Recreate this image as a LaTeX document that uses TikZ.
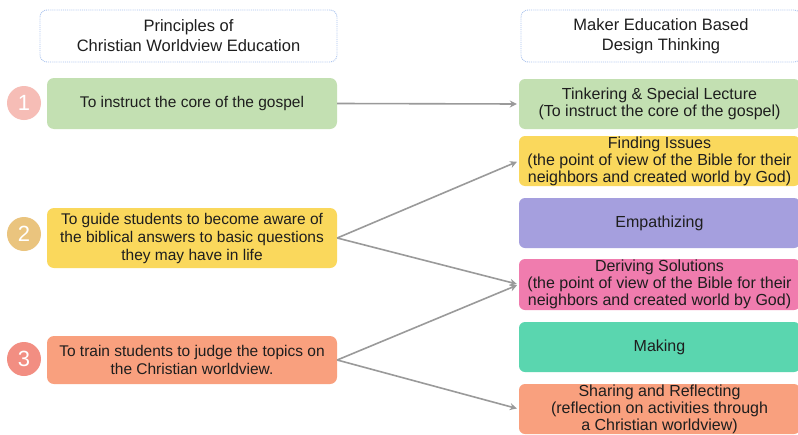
\documentclass[tikz,border=0pt]{standalone}
\usepackage{fontspec}
\setmainfont{Liberation Sans}
\usetikzlibrary{arrows.meta}
\definecolor{hdrline}{HTML}{A8C2EE}
\definecolor{cgreen}{HTML}{C3E0B2}
\definecolor{cyellow}{HTML}{FAD85C}
\definecolor{csalmon}{HTML}{F9A07E}
\definecolor{cpurple}{HTML}{A59FDE}
\definecolor{cpink}{HTML}{F07CAE}
\definecolor{cteal}{HTML}{5AD6AF}
\definecolor{cone}{HTML}{F6BDB6}
\definecolor{ctwo}{HTML}{EAC47E}
\definecolor{cthree}{HTML}{F28E82}
\definecolor{arrowgray}{HTML}{9A9A9A}
\definecolor{txt}{HTML}{1E1E1E}
\tikzset{
  hdrbox/.style={draw=hdrline, densely dotted, line width=0.9pt, rounded corners=7pt, fill=white,
    minimum height=52pt, align=center, font=\fontsize{16.5}{20}\selectfont, text=txt, inner sep=0pt},
  leftbox/.style={rounded corners=7pt, minimum width=290pt, align=center,
    font=\fontsize{15.5}{18}\selectfont, text=txt, inner sep=0pt},
  rightbox/.style={rounded corners=6pt, minimum width=281pt, align=center,
    font=\fontsize{16}{17}\selectfont, text=txt, inner sep=0pt},
  numcirc/.style={circle, minimum size=34pt, inner sep=0pt, text=white,
    font=\fontsize{22}{22}\selectfont},
  conn/.style={draw=arrowgray, line width=1.6pt, -{Stealth[length=7pt,width=7pt]}, shorten >=2pt}
}
\begin{document}
\begin{tikzpicture}[x=1pt,y=-1pt]
\useasboundingbox (0,0) rectangle (798,434);
\clip (0,0) rectangle (798,434);
\fill[white] (0,0) rectangle (798,434);
% headers
\node[hdrbox, minimum width=297pt] (H1) at (188.5,36) {Principles of\\Christian Worldview Education};
\node[hdrbox, minimum width=280pt] (H2) at (661,36) {Maker Education Based\\Design Thinking};
% left boxes
\node[leftbox, fill=cgreen, minimum height=51pt] (L1) at (192,103.5) {To instruct the core of the gospel};
\node[leftbox, fill=cyellow, minimum height=60pt] (L2) at (192,238) {To guide students to become aware of\\the biblical answers to basic questions\\they may have in life};
\node[leftbox, fill=csalmon, minimum height=48pt] (L3) at (192,360) {To train students to judge the topics on\\the Christian worldview.};
% number circles
\node[numcirc, fill=cone] (C1) at (24,103) {1};
\node[numcirc, fill=ctwo] (C2) at (24,234) {2};
\node[numcirc, fill=cthree] (C3) at (24,359) {3};
% right boxes
\node[rightbox, fill=cgreen, minimum height=50pt] (R1) at (659.5,104) {Tinkering \& Special Lecture\\(To instruct the core of the gospel)};
\node[rightbox, fill=cyellow, minimum height=50pt] (R2) at (659.5,161) {Finding Issues\\(the point of view of the Bible for their\\neighbors and created world by God)};
\node[rightbox, fill=cpurple, minimum height=50pt] (R3) at (659.5,223) {Empathizing};
\node[rightbox, fill=cpink, minimum height=51pt] (R4) at (659.5,284.5) {Deriving Solutions\\(the point of view of the Bible for their\\neighbors and created world by God)};
\node[rightbox, fill=cteal, minimum height=50pt] (R5) at (659.5,347) {Making};
\node[rightbox, fill=csalmon, minimum height=50pt] (R6) at (659.5,409) {Sharing and Reflecting\\(reflection on activities through\\a Christian worldview)};
% connectors
\draw[conn] (L1.east) -- (R1.west);
\draw[conn] (L2.east) -- (R2.west);
\draw[conn] (L2.east) -- (R4.west);
\draw[conn] (L3.east) -- (R4.west);
\draw[conn] (L3.east) -- (R6.west);
\end{tikzpicture}
\end{document}
